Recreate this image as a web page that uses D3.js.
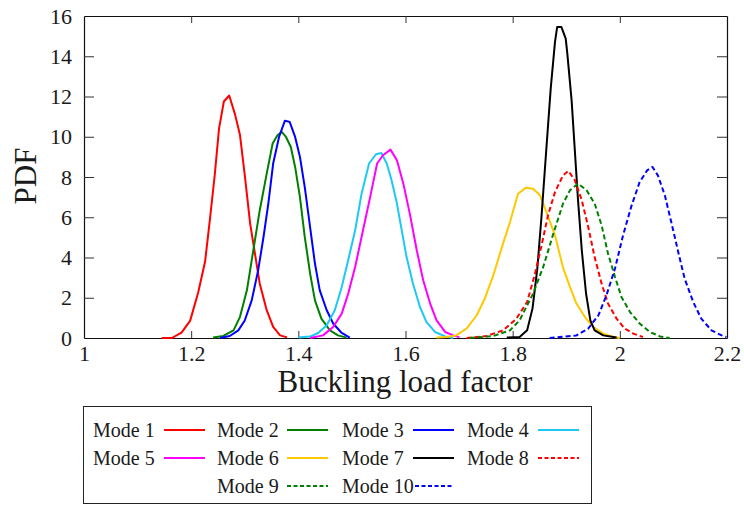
<!DOCTYPE html>
<html>
<head>
<meta charset="utf-8">
<script src="https://cdn.jsdelivr.net/npm/d3@7"></script>
<style>
  html, body { margin: 0; padding: 0; background: #fff; }
  svg { display: block; font-family: 'Liberation Serif', 'Times New Roman', serif; }
  svg text { font-family: 'Liberation Serif', 'Times New Roman', serif !important; }
</style>
</head>
<body>
<svg id="chart" width="744" height="505"></svg>
<script>
// ---------- data (x = buckling load factor, y = PDF) ----------
const xTicks = [1, 1.2, 1.4, 1.6, 1.8, 2, 2.2];
const xTickLabels = ["1", "1.2", "1.4", "1.6", "1.8", "2", "2.2"];
const yTicks = [0, 2, 4, 6, 8, 10, 12, 14, 16];

const modeNames = ["Mode 1", "Mode 2", "Mode 3", "Mode 4", "Mode 5", "Mode 6", "Mode 7", "Mode 8", "Mode 9", "Mode 10"];

const mode1 = [[1.145,0],[1.164,0],[1.182,0.27],[1.198,0.85],[1.213,2.25],[1.226,3.8],[1.235,5.9],[1.244,8.1],[1.252,10.4],[1.261,11.75],[1.271,12.05],[1.282,11.1],[1.291,10.1],[1.300,8.1],[1.310,5.7],[1.319,4.2],[1.328,2.7],[1.341,1.38],[1.353,0.55],[1.366,0.13],[1.379,0.03]];
const mode2 = [[1.241,0.02],[1.260,0.1],[1.279,0.38],[1.291,1.04],[1.304,2.37],[1.316,4.36],[1.328,6.35],[1.341,8.17],[1.352,9.66],[1.361,10.07],[1.369,10.24],[1.377,9.99],[1.386,9.49],[1.394,8.5],[1.403,7.0],[1.412,5.02],[1.422,3.2],[1.431,1.87],[1.443,0.96],[1.459,0.38],[1.474,0.13],[1.490,0.02]];
const mode3 = [[1.254,0],[1.272,0.1],[1.288,0.38],[1.300,0.87],[1.313,1.87],[1.325,3.36],[1.335,5.02],[1.344,6.68],[1.353,8.67],[1.364,9.99],[1.375,10.8],[1.384,10.73],[1.394,9.99],[1.403,9.0],[1.412,7.5],[1.422,5.5],[1.431,3.7],[1.440,2.37],[1.453,1.38],[1.465,0.72],[1.481,0.25],[1.496,0.02]];
const mode4 = [[1.400,0.02],[1.422,0.07],[1.437,0.25],[1.453,0.63],[1.468,1.38],[1.481,2.53],[1.493,3.86],[1.506,5.35],[1.518,7.17],[1.532,8.67],[1.545,9.13],[1.555,9.19],[1.565,8.67],[1.574,7.84],[1.584,6.68],[1.593,5.35],[1.602,4.02],[1.614,2.7],[1.627,1.54],[1.639,0.8],[1.655,0.3],[1.674,0.08],[1.689,0.0]];
const mode5 = [[1.422,0.0],[1.446,0.13],[1.465,0.55],[1.481,1.21],[1.493,2.2],[1.506,3.53],[1.518,5.02],[1.534,7.0],[1.547,8.67],[1.558,9.08],[1.572,9.36],[1.584,8.83],[1.596,7.67],[1.608,6.18],[1.621,4.36],[1.633,2.87],[1.646,1.71],[1.658,0.88],[1.674,0.3],[1.689,0.13],[1.701,0.03]];
const mode6 = [[1.658,0.02],[1.677,0.05],[1.695,0.13],[1.714,0.47],[1.733,1.13],[1.748,1.96],[1.764,3.12],[1.779,4.44],[1.795,5.76],[1.810,7.17],[1.825,7.47],[1.838,7.42],[1.851,7.09],[1.863,6.26],[1.879,5.1],[1.894,3.5],[1.907,2.53],[1.919,1.71],[1.935,1.04],[1.950,0.55],[1.969,0.22],[1.988,0.05],[2.0,0.0]];
const mode7 = [[1.789,0.02],[1.813,0.05],[1.827,0.38],[1.837,1.46],[1.846,3.45],[1.854,6.1],[1.862,9.08],[1.871,12.39],[1.879,14.71],[1.883,15.45],[1.891,15.45],[1.899,14.88],[1.902,14.13],[1.910,11.81],[1.916,9.33],[1.922,6.84],[1.929,4.36],[1.937,2.2],[1.945,0.88],[1.953,0.38],[1.969,0.13],[1.994,0.02]];
const mode8 = [[1.714,0],[1.751,0.1],[1.782,0.38],[1.807,0.96],[1.827,1.79],[1.841,3.12],[1.854,4.61],[1.866,6.1],[1.879,7.25],[1.894,8.08],[1.904,8.3],[1.916,7.84],[1.929,6.84],[1.941,5.52],[1.953,4.02],[1.966,2.7],[1.978,1.71],[1.994,0.96],[2.009,0.47],[2.025,0.22],[2.043,0.05]];
const mode9 = [[1.72,0],[1.764,0.1],[1.795,0.38],[1.813,0.88],[1.838,2.2],[1.857,3.53],[1.876,5.19],[1.894,6.68],[1.907,7.34],[1.922,7.67],[1.938,7.34],[1.953,6.68],[1.966,5.6],[1.978,4.19],[1.991,3.03],[2.003,2.04],[2.019,1.29],[2.037,0.72],[2.056,0.3],[2.075,0.08],[2.093,0]];
const mode10 = [[1.869,0],[1.919,0.13],[1.941,0.47],[1.960,1.13],[1.975,2.12],[1.991,3.45],[2.006,5.1],[2.022,6.59],[2.037,7.75],[2.051,8.33],[2.061,8.5],[2.071,8.08],[2.084,7.09],[2.096,5.76],[2.109,4.27],[2.121,2.95],[2.137,1.79],[2.152,0.96],[2.171,0.38],[2.190,0.13],[2.199,0.05]];

const modeData = [mode1, mode2, mode3, mode4, mode5, mode6, mode7, mode8, mode9, mode10];
const modeColors = ["#ff0000", "#008000", "#0000ff", "#1ec8f5", "#ff00ff", "#ffc800", "#000000", "#ff0000", "#008000", "#0000ff"];
const modeDashed = [false, false, false, false, false, false, false, true, true, true];

// ---------- layout ----------
const svg = d3.select("#chart");
const plot = { left: 84, right: 727, top: 16, bottom: 338 };
const x = d3.scaleLinear().domain([1, 2.2]).range([plot.left, plot.right]);
const y = d3.scaleLinear().domain([0, 16]).range([plot.bottom, plot.top]);
const textColor = "#1a1a1a";
const serif = "'Liberation Serif', 'Times New Roman', serif";

// axes (inward ticks on all four sides)
const gB = svg.append("g").attr("transform", `translate(0,${plot.bottom})`)
  .call(d3.axisBottom(x).tickValues(xTicks).tickFormat((d, i) => xTickLabels[i]).tickSizeInner(-7).tickSizeOuter(0).tickPadding(7));
const gT = svg.append("g").attr("transform", `translate(0,${plot.top})`)
  .call(d3.axisTop(x).tickValues(xTicks).tickFormat("").tickSizeInner(-7).tickSizeOuter(0));
const gL = svg.append("g").attr("transform", `translate(${plot.left},0)`)
  .call(d3.axisLeft(y).tickValues(yTicks).tickFormat(d3.format("d")).tickSizeInner(-10).tickSizeOuter(0).tickPadding(12));
const gR = svg.append("g").attr("transform", `translate(${plot.right},0)`)
  .call(d3.axisRight(y).tickValues(yTicks).tickFormat("").tickSizeInner(-10).tickSizeOuter(0));

[gB, gT, gL, gR].forEach(g => {
  g.attr("font-family", serif).attr("font-size", 22);
  g.select(".domain").attr("stroke", "#111").attr("stroke-width", 1.2);
  g.selectAll(".tick line").attr("stroke", "#333").attr("stroke-width", 1);
  g.selectAll(".tick text").attr("fill", textColor).attr("font-family", serif).attr("font-size", 22);
});
// hide end ticks that coincide with the frame
gT.selectAll(".tick").filter(d => d === 1 || d === 2.2).select("line").remove();
gB.selectAll(".tick").filter(d => d === 1 || d === 2.2).select("line").remove();
gL.selectAll(".tick").filter(d => d === 0 || d === 16).select("line").remove();
gR.selectAll(".tick").filter(d => d === 0 || d === 16).select("line").remove();

// curves
const line = d3.line().x(d => x(d[0])).y(d => y(d[1]));
svg.append("clipPath").attr("id", "clip").append("rect")
  .attr("x", plot.left).attr("y", plot.top).attr("width", plot.right - plot.left).attr("height", plot.bottom - plot.top + 1);
const curves = svg.append("g").attr("clip-path", "url(#clip)");
modeData.forEach((data, i) => {
  curves.append("path")
    .datum(data)
    .attr("d", line)
    .attr("fill", "none")
    .attr("stroke", modeColors[i])
    .attr("stroke-width", 2)
    .attr("stroke-linejoin", "round")
    .attr("stroke-dasharray", modeDashed[i] ? "5,3" : null);
});

// axis titles
svg.append("text")
  .attr("x", 405).attr("y", 392)
  .attr("text-anchor", "middle")
  .attr("fill", textColor)
  .attr("font-family", serif)
  .attr("font-size", 31)
  .text("Buckling load factor");
svg.append("text")
  .attr("transform", "translate(36,176) rotate(-90)")
  .attr("text-anchor", "middle")
  .attr("fill", textColor)
  .attr("font-family", serif)
  .attr("font-size", 31)
  .text("PDF");

// legend
const legend = svg.append("g");
legend.append("rect")
  .attr("x", 83.5).attr("y", 406.5).attr("width", 508).attr("height", 97)
  .attr("fill", "#fff").attr("stroke", "#222").attr("stroke-width", 1);
const legCols = [93, 217, 342, 467];
const legLineStart = [164, 287, 413, 538];
const legRows = [430, 458, 486];
const legPos = [[0,0],[0,1],[0,2],[0,3],[1,0],[1,1],[1,2],[1,3],[2,1],[2,2]];
modeNames.forEach((name, i) => {
  const [r, c] = legPos[i];
  legend.append("text")
    .attr("x", legCols[c]).attr("y", legRows[r] + 7)
    .attr("fill", textColor)
    .attr("font-family", serif)
    .attr("font-size", 20)
    .text(name);
  legend.append("line")
    .attr("x1", i === 9 ? legLineStart[c] + 2 : legLineStart[c]).attr("x2", legLineStart[c] + 41)
    .attr("y1", legRows[r]).attr("y2", legRows[r])
    .attr("stroke", modeColors[i]).attr("stroke-width", 2)
    .attr("stroke-dasharray", modeDashed[i] ? "4,2.5" : null);
});
</script>
</body>
</html>
